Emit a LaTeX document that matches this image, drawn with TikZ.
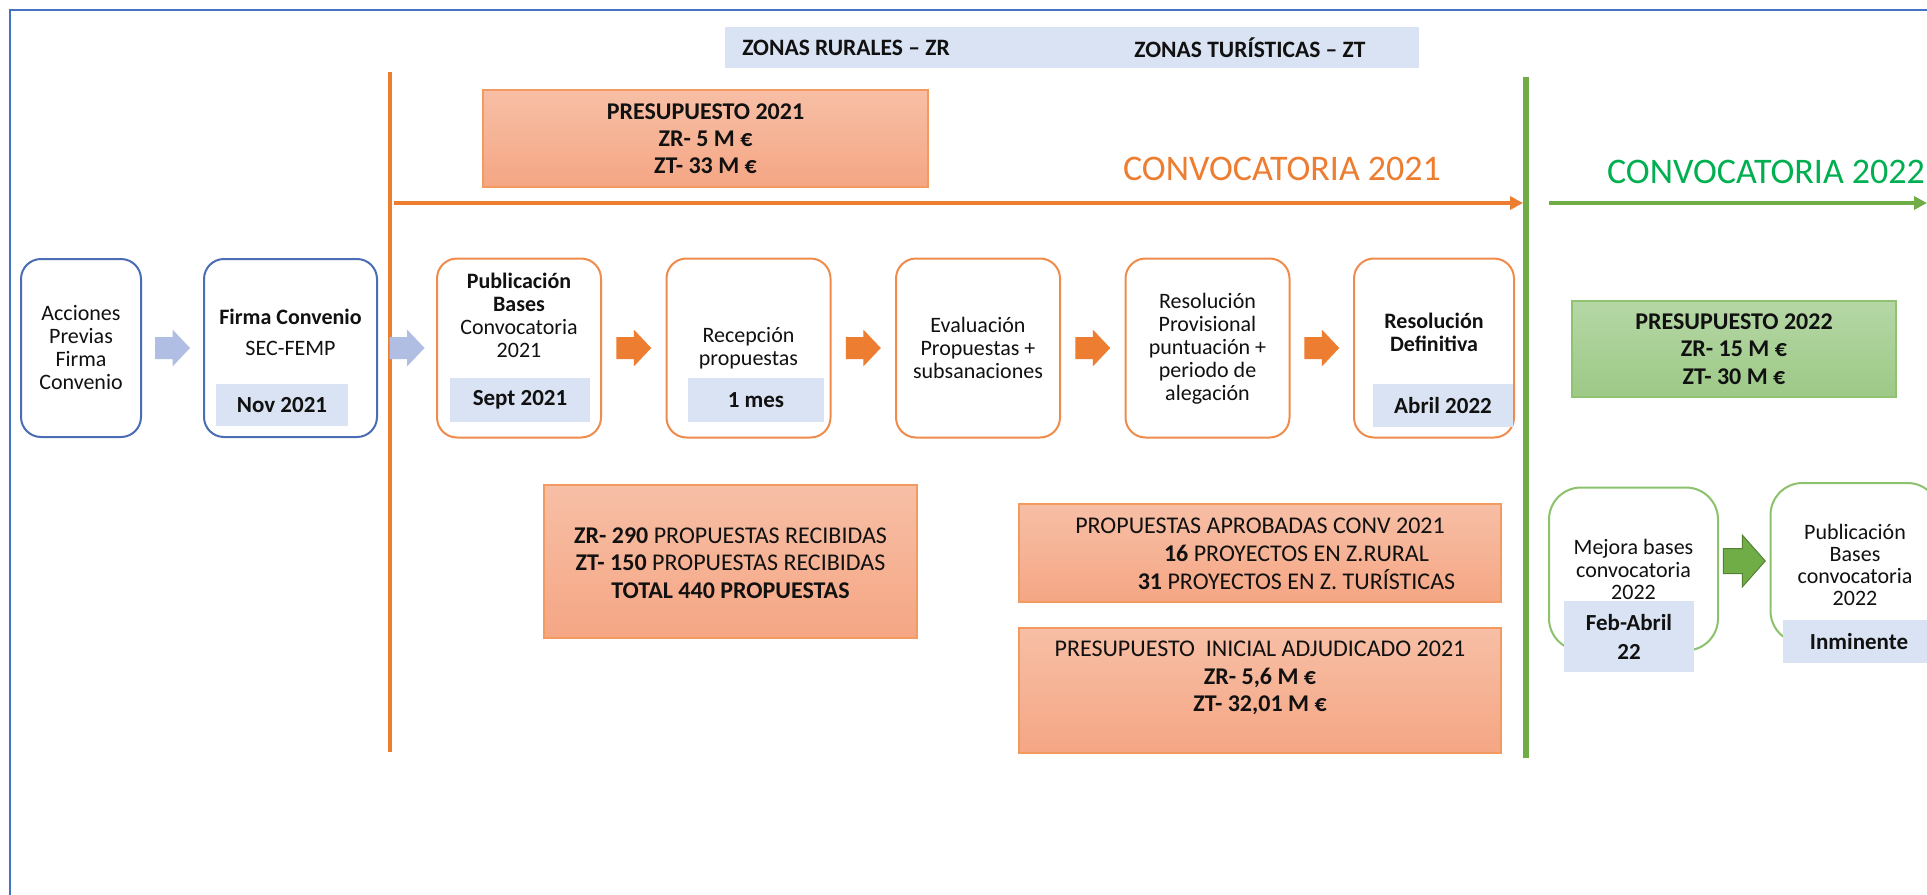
\documentclass[tikz,border=0pt]{standalone}
\usepackage{fontspec}
\setmainfont{Carlito}
\usetikzlibrary{arrows.meta,calc}
\definecolor{frameblue}{HTML}{4472C4}
\definecolor{boxblue}{HTML}{4A6DB5}
\definecolor{arrblue}{HTML}{B0BEE3}
\definecolor{labfill}{HTML}{DAE3F3}
\definecolor{orng}{HTML}{ED7D31}
\definecolor{oboxbord}{HTML}{EF8B4B}
\definecolor{otop}{HTML}{F7BFA6}
\definecolor{obot}{HTML}{F5A684}
\definecolor{oinfobord}{HTML}{F29A60}
\definecolor{grn}{HTML}{70AD47}
\definecolor{grndark}{HTML}{548235}
\definecolor{grntext}{HTML}{00B050}
\definecolor{gtop}{HTML}{B5D7A5}
\definecolor{gbot}{HTML}{9DC987}
\definecolor{gbord}{HTML}{8FC271}
\definecolor{gboxbord}{HTML}{8CC16D}
\definecolor{txt}{HTML}{111111}
\newcommand\setfs[2]{\fontsize{#1}{#2}\selectfont}
\begin{document}
\begin{tikzpicture}[x=1pt,y=-1pt,
  rbox/.style={draw=#1, line width=2pt, rounded corners=20pt, fill=white, inner sep=0pt, minimum width=164pt, minimum height=179pt},
  gbox/.style={draw=gboxbord, line width=2pt, rounded corners=32pt, fill=white, inner sep=0pt, minimum width=169pt, minimum height=163pt},
  lab/.style={fill=labfill, inner sep=0pt, font=\setfs{23}{29}\bfseries, text=txt, align=center},
  btxt/.style={inner sep=0pt, align=center, text=txt, font=\setfs{22}{23}},
  infobox/.style={draw=oinfobord, line width=1.5pt, top color=otop, bottom color=obot, inner sep=0pt},
  infotxt/.style={inner sep=0pt, align=center, text=txt, font=\setfs{24}{27.5}},
  zonetxt/.style={inner sep=0pt, font=\setfs{23.5}{26}\bfseries, text=txt},
  barrow/.pic={\fill (-17.5,-11) -- (0,-11) -- (0,-18.5) -- (17.5,0) -- (0,18.5) -- (0,11) -- (-17.5,11) -- cycle;},
  garrow/.pic={\filldraw[fill=grn, draw=grndark, line width=1pt] (-21,-12.5) -- (-2,-12.5) -- (-2,-26) -- (21,0) -- (-2,26) -- (-2,12.5) -- (-21,12.5) -- cycle;}
]
\useasboundingbox (0,0) rectangle (1927,894);
\clip (0,0) rectangle (1927,894);
\fill[white] (0,0) rectangle (1927,894);
% frame
\draw[frameblue, line width=2.5pt] (10,920) -- (10,10) -- (1950,10);

% zones band
\node[fill=labfill, minimum width=694pt, minimum height=41pt, inner sep=0pt] (band) at (1072,47.5) {};
\node[zonetxt] (zr) at (846,48) {ZONAS RURALES -- ZR};
\node[zonetxt] (zt) at (1250,48) {ZONAS TURÍSTICAS -- ZT};

% separators
\coordinate (ov1) at (390,72);
\coordinate (ov2) at (390,752);
\draw[orng, line width=3.5pt] (ov1) -- (ov2);
\coordinate (gv1) at (1526,77);
\coordinate (gv2) at (1526,758);
\draw[grn, line width=6pt] (gv1) -- (gv2);

% timeline arrows
\coordinate (oh1) at (394,203);
\coordinate (oh2) at (1523,203);
\draw[orng, line width=4pt, -{Triangle[length=13pt,width=13pt]}] (oh1) -- (oh2);
\coordinate (gh1) at (1549,203);
\coordinate (gh2) at (1927,203);
\draw[grn, line width=4pt, -{Triangle[length=13pt,width=13pt]}] (gh1) -- (gh2);

\node[inner sep=0pt, font=\setfs{36}{40}, text=orng] (c21) at (1282,169) {CONVOCATORIA 2021};
\node[inner sep=0pt, font=\setfs{36}{40}, text=grntext] (c22) at (1766,172) {CONVOCATORIA 2022};

% presupuesto 2021
\node[infobox, minimum width=445pt, minimum height=97pt] (p21) at (705.5,138.5) {};
\node[infotxt, font=\setfs{24}{27}\bfseries] (p21t) at (p21.center) {PRESUPUESTO 2021\\ZR- 5 M €\\ZT- 33 M €};

% row of process boxes
\node[rbox=boxblue, minimum width=120pt, minimum height=178pt] (acc) at (81,348) {};
\node[rbox=boxblue, minimum width=173pt, minimum height=178pt] (fir) at (290.5,348) {};
\node[rbox=oboxbord] (pub) at (519,348) {};
\node[rbox=oboxbord] (rec) at (748.5,348) {};
\node[rbox=oboxbord] (eva) at (978,348) {};
\node[rbox=oboxbord] (rpr) at (1207.5,348) {};
\node[rbox=oboxbord, minimum width=160pt] (rde) at (1434,348) {};

\node[btxt] (acct) at (acc.center) {Acciones\\Previas\\Firma\\Convenio};
\node[btxt, font=\setfs{22}{23}\bfseries] (firt1) at (290.5,317) {Firma Convenio};
\node[btxt] (firt2) at (290.5,348) {SEC-FEMP};
\node[btxt] (pubt) at (519,315.5) {\textbf{Publicación}\\\textbf{Bases}\\Convocatoria\\2021};
\node[btxt] (rect) at (748.5,348) {Recepción\\propuestas};
\node[btxt] (evat) at (978,348) {Evaluación\\Propuestas +\\subsanaciones};
\node[btxt] (rprt) at (1207.5,348.5) {Resolución\\Provisional\\puntuación +\\periodo de\\alegación};
\node[btxt, font=\setfs{22}{23}\bfseries] (rdet) at (1434,332.5) {Resolución\\Definitiva};

\node[lab, minimum width=132pt, minimum height=42pt] (l1) at (282,405) {Nov 2021};
\node[lab, minimum width=140pt, minimum height=44pt] (l2) at (520,400) {Sept 2021};
\node[lab, minimum width=136pt, minimum height=44pt] (l3) at (756,400) {1 mes};
\node[lab, minimum width=140pt, minimum height=43pt] (l4) at (1443,405.5) {Abril 2022};

% block arrows
\pic[fill=arrblue] at ($(acc.east)!0.5!(fir.west)$) {barrow};
\pic[fill=arrblue] at ($(fir.east)!0.5!(pub.west)$) {barrow};
\pic[fill=orng] at ($(pub.east)!0.5!(rec.west)$) {barrow};
\pic[fill=orng] at ($(rec.east)!0.5!(eva.west)$) {barrow};
\pic[fill=orng] at ($(eva.east)!0.5!(rpr.west)$) {barrow};
\pic[fill=orng] at ($(rpr.east)!0.5!(rde.west)$) {barrow};

% info boxes 2021
\node[infobox, minimum width=373pt, minimum height=153pt] (rcv) at (730.5,561.5) {};
\node[infotxt] (rcvt) at (730.5,563) {\textbf{ZR- 290} PROPUESTAS RECIBIDAS\\\textbf{ZT- 150} PROPUESTAS RECIBIDAS\\\textbf{TOTAL 440 PROPUESTAS}};

\node[infobox, minimum width=482pt, minimum height=98pt] (apr) at (1260,553) {};
\node[infotxt] (aprt1) at (1260,526) {PROPUESTAS APROBADAS CONV 2021};
\node[infotxt] (aprt2) at (1296.5,567.5) {\textbf{16} PROYECTOS EN Z.RURAL\\\textbf{31} PROYECTOS EN Z. TURÍSTICAS};

\node[infobox, minimum width=482pt, minimum height=125pt] (ini) at (1260,690.5) {};
\node[infotxt] (init) at (1260,678) {PRESUPUESTO\ \ INICIAL ADJUDICADO 2021\\\textbf{ZR- 5,6 M €}\\\textbf{ZT- 32,01 M €}};

% 2022
\node[draw=gbord, line width=1.5pt, top color=gtop, bottom color=gbot, inner sep=0pt, minimum width=324pt, minimum height=96pt] (p22) at (1734,349) {};
\node[infotxt, font=\setfs{24}{27.5}\bfseries] (p22t) at (p22.center) {PRESUPUESTO 2022\\ZR- 15 M €\\ZT- 30 M €};

\node[gbox] (mej) at (1633.5,569) {};
\node[gbox, minimum height=160pt] (pb2) at (1855,563) {};
\node[btxt, font=\setfs{22}{22.5}] (mejt) at (1633.5,569.5) {Mejora bases\\convocatoria\\2022};
\node[btxt, font=\setfs{22}{22}] (pb2t) at (1855,565) {Publicación\\Bases\\convocatoria\\2022};
\node[lab, minimum width=130pt, minimum height=71pt] (l5) at (1629,636.5) {Feb-Abril\\22};
\node[lab, minimum width=152pt, minimum height=43pt] (l6) at (1859,641.5) {Inminente};
\pic at ($(mej.east)!0.5!(pb2.west)+(0,-5)$) {garrow};
\end{tikzpicture}
\end{document}
